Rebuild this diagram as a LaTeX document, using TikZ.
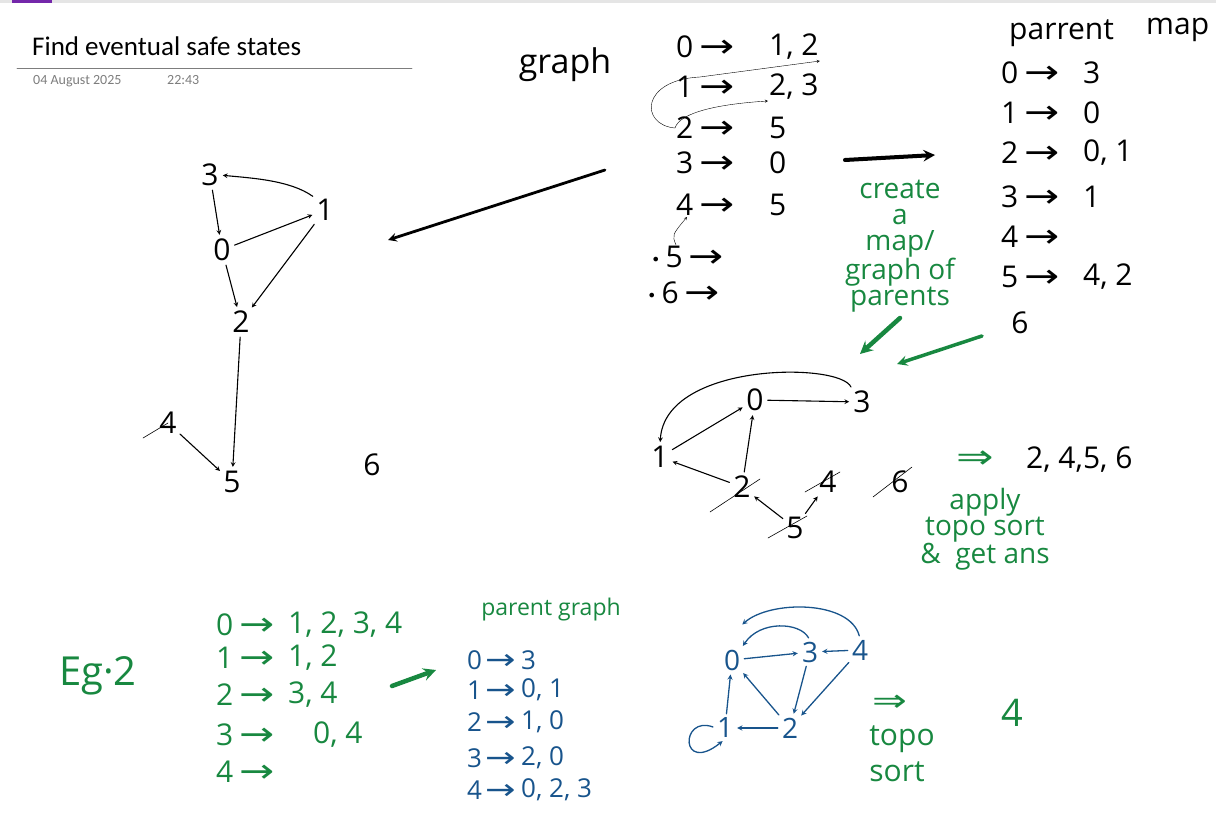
\documentclass[tikz,border=0pt]{standalone}
\usepackage{fontspec}
\setmainfont{Open Sans}
\newfontfamily\onenotefont{Carlito}
\newfontfamily\arrowfont{DejaVu Sans}
\newcommand\handarrow{\scalebox{1.4}[1.1]{\arrowfont →}}
\newcommand\handimplies{\scalebox{1.6}[1.2]{\arrowfont ⇒}}
\newcommand\handdot{\raisebox{2pt}{\arrowfont\fontsize{16}{16}\selectfont •}}
\usetikzlibrary{positioning}
\definecolor{inkgreen}{RGB}{24,136,64}
\definecolor{inkblue}{RGB}{24,84,140}
\definecolor{headgrey}{RGB}{125,125,125}
\definecolor{tabpurple}{RGB}{116,39,170}
\begin{document}
\begin{tikzpicture}[x=1pt,y=-1pt,line join=round,line cap=round,>=stealth,
  hand/.style={font=\fontsize{30}{30}\selectfont,inner sep=1pt},
  note/.style={font=\fontsize{28}{26}\selectfont,inner sep=1pt,text=inkgreen},
  edge/.style={->,line width=1.1pt,shorten >=3pt,shorten <=3pt},
  bedge/.style={edge,draw=inkblue,line width=1.3pt},
  slash/.style={line width=0.6pt}]
\useasboundingbox (0,0) rectangle (1216,834);
% page header
\fill[gray!20] (0,0) rectangle (1216,3);
\fill[tabpurple] (12,0) rectangle (52,3);
\node[anchor=base west,inner sep=0,font=\onenotefont\fontsize{27}{30}\selectfont] (title) at (32,56) {Find eventual safe states};
\draw[headgrey,line width=0.6pt] (17,68) -- (412,68);
\node[anchor=base west,inner sep=0,text=headgrey,font=\onenotefont\fontsize{14}{16}\selectfont] (date) at (33,85) {04 August 2025};
\node[anchor=base west,inner sep=0,text=headgrey,font=\onenotefont\fontsize{14}{16}\selectfont] (time) at (167,85) {22:43};
\node[hand,font=\fontsize{34}{34}\selectfont] (graphword) at (565,65) {graph};
% first graph
\node[hand] (g3) at (210,175) {3};
\node[hand] (g1) at (325,210) {1};
\node[hand] (g0) at (222,250) {0};
\node[hand] (g2) at (241,322) {2};
\node[hand] (g4) at (168,423) {4};
\node[hand] (g5) at (232,482) {5};
\node[hand] (g6) at (372,465) {6};
\draw[edge] (g1.north west) .. controls (290,180) and (250,178) .. (g3.east);
\draw[edge] (g3) -- (g0);
\draw[edge] (g0) -- (g1);
\draw[edge] (g1) -- (g2);
\draw[edge] (g0) -- (g2);
\draw[edge] (g2) -- (g5);
\draw[edge] (g4) -- (g5);
\draw[slash] (g4.center) -- ++(-25,15);
\coordinate (bigtail) at (605,170);
\coordinate (bighead) at (388,240);
\draw[line width=2.8pt,->] (bigtail) -- (bighead);
% adjacency list
\foreach \i/\y/\dst in {0/47/{1,\ 2},1/87/{2,\ 3},2/128/5,3/163/0,4/205/5}{
  \node[hand,anchor=west] (l\i) at (675,\y) {\i\hspace{6pt}\handarrow};
  \node[hand,anchor=west] (lt\i) at (768,\y) {\dst};
}
\node[hand,anchor=west] (l5) at (650,257) {\handdot\,5\hspace{6pt}\handarrow};
\node[hand,anchor=west] (l6) at (646,293) {\handdot\,6\hspace{6pt}\handarrow};
\draw[->,thin] (l2.west) .. controls (640,125) and (640,80) .. (700,77) -- (lt0.south east);
\draw[->,thin] (l2.west) .. controls (680,112) and (720,104) .. (lt1.south west);
\draw[->,thin] ([xshift=26pt]l5.north west) .. controls (672,235) .. ([xshift=12pt]l4.south west);
\coordinate (maptail) at (845,160);
\coordinate (maphead) at (935,155);
\draw[line width=4pt,->] (maptail) -- (maphead);
\node[note,align=center] (create) at (900,246) {create\\a\\map/\\graph of\\parents};
% parent map
\node[hand,anchor=west] (pm) at (1008,33) {parrent};
\node[hand,anchor=west] (pmap) at (1145,30) {map};
\foreach \i/\y/\dst in {0/73/3,1/113/0,2/153/{0,\ 1},3/197/1,4/237/{},5/277/{4,\ 2}}{
  \node[hand,anchor=west] (p\i) at (1000,\y) {\i\hspace{6pt}\handarrow};
  \node[hand,anchor=west] (pt\i) at (1082,\y) {\dst};
}
\node[hand] (p6) at (1020,323) {6};
\coordinate (gatail) at (900,318);
\coordinate (gahead) at (860,354);
\coordinate (gbtail) at (982,336);
\coordinate (gbhead) at (897,364);
\draw[inkgreen,line width=4.5pt,->] (gatail) -- (gahead);
\draw[inkgreen,line width=3.5pt,->] (gbtail) -- (gbhead);
% parent graph
\node[hand] (m0) at (755,400) {0};
\node[hand] (m3) at (862,402) {3};
\node[hand] (m1) at (660,457) {1};
\node[hand] (m2) at (742,487) {2};
\node[hand] (m4) at (828,482) {4};
\node[hand] (m5) at (795,528) {5};
\node[hand] (m6) at (900,482) {6};
\draw[edge] (m0) -- (m3);
\draw[edge] (m3.north west) .. controls (840,362) and (665,362) .. (m1.north);
\draw[edge] (m1) -- (m0);
\draw[edge] (m2) -- (m0);
\draw[edge] (m2) -- (m1);
\draw[edge] (m5) -- (m2);
\draw[edge] (m5) -- (m4);
\draw[slash] ([shift={(-32,25)}]m2.center) -- ([shift={(18,-8)}]m2.center);
\draw[slash] ([shift={(-23,10)}]m4.center) -- ([shift={(12,-10)}]m4.center);
\draw[slash] ([shift={(-27,10)}]m5.center) -- ([shift={(12,-12)}]m5.center);
\draw[slash] ([shift={(-27,15)}]m6.center) -- ([shift={(12,-15)}]m6.center);
\node[note,font=\fontsize{28}{28}\selectfont] (imp) at (975,460) {\handimplies};
\node[hand,anchor=west] (ans) at (1025,460) {2,\ 4,5,\ 6};
\node[note,align=center] (apply) at (985,529) {apply\\topo sort\\\&\ \ get ans};
% second example
\node[note,font=\fontsize{40}{40}\selectfont] (eg) at (98,676) {Eg·2};
\foreach \i/\y/\dst in {0/625/{1,\ 2,\ 3,\ 4},1/658/{1,\ 2},2/695/{3,\ 4},3/735/{\hspace{25pt}0,\ 4},4/772/{}}{
  \node[hand,text=inkgreen,anchor=west] (e\i) at (215,\y) {\i\hspace{6pt}\handarrow};
  \node[hand,text=inkgreen,anchor=west] (et\i) at (287,\y) {\dst};
}
\coordinate (etail) at (392,686);
\coordinate (ehead) at (436,670);
\draw[inkgreen,line width=4.5pt,->] (etail) -- (ehead);
\node[note,font=\fontsize{23}{23}\selectfont] (pg) at (551,610) {parent graph};
\foreach \i/\y/\dst in {0/660/3,1/690/{0,\ 1},2/722/{1,\ 0},3/758/{2,\ 0},4/790/{0,\ 2,\ 3}}{
  \node[hand,text=inkblue,font=\fontsize{26}{26}\selectfont,anchor=west] (q\i) at (466,\y) {\i\hspace{3pt}\handarrow};
  \node[hand,text=inkblue,font=\fontsize{26}{26}\selectfont,anchor=west] (qt\i) at (520,\y) {\dst};
}
\node[hand,text=inkblue,font=\fontsize{28}{28}\selectfont] (b0) at (732,660) {0};
\node[hand,text=inkblue,font=\fontsize{28}{28}\selectfont] (b3) at (810,652) {3};
\node[hand,text=inkblue,font=\fontsize{28}{28}\selectfont] (b4) at (860,650) {4};
\node[hand,text=inkblue,font=\fontsize{28}{28}\selectfont] (b1) at (725,728) {1};
\node[hand,text=inkblue,font=\fontsize{28}{28}\selectfont] (b2) at (790,728) {2};
\draw[bedge] (b0) -- (b3);
\draw[bedge] (b4) -- (b3);
\draw[bedge] (b3.north) .. controls (800,622) and (760,620) .. (b0.north east);
\draw[bedge] (b4.north) .. controls (850,600) and (770,600) .. ([shift={(8,-22)}]b0.north);
\draw[bedge] (b3) -- (b2);
\draw[bedge] (b4) -- (b2);
\draw[bedge] (b2) -- (b0);
\draw[bedge] (b1) -- (b0);
\draw[bedge] (b2) -- (b1);
\draw[bedge] (b1.west) .. controls (680,715) and (680,775) .. (b1.south);
\node[note,font=\fontsize{26}{26}\selectfont] (imp2) at (890,703) {\handimplies};
\node[note,font=\fontsize{30}{36}\selectfont,align=left] (topo) at (902,754) {topo\\sort};
\node[hand,text=inkgreen,font=\fontsize{38}{38}\selectfont] (four) at (1012,713) {4};
\end{tikzpicture}
\end{document}
